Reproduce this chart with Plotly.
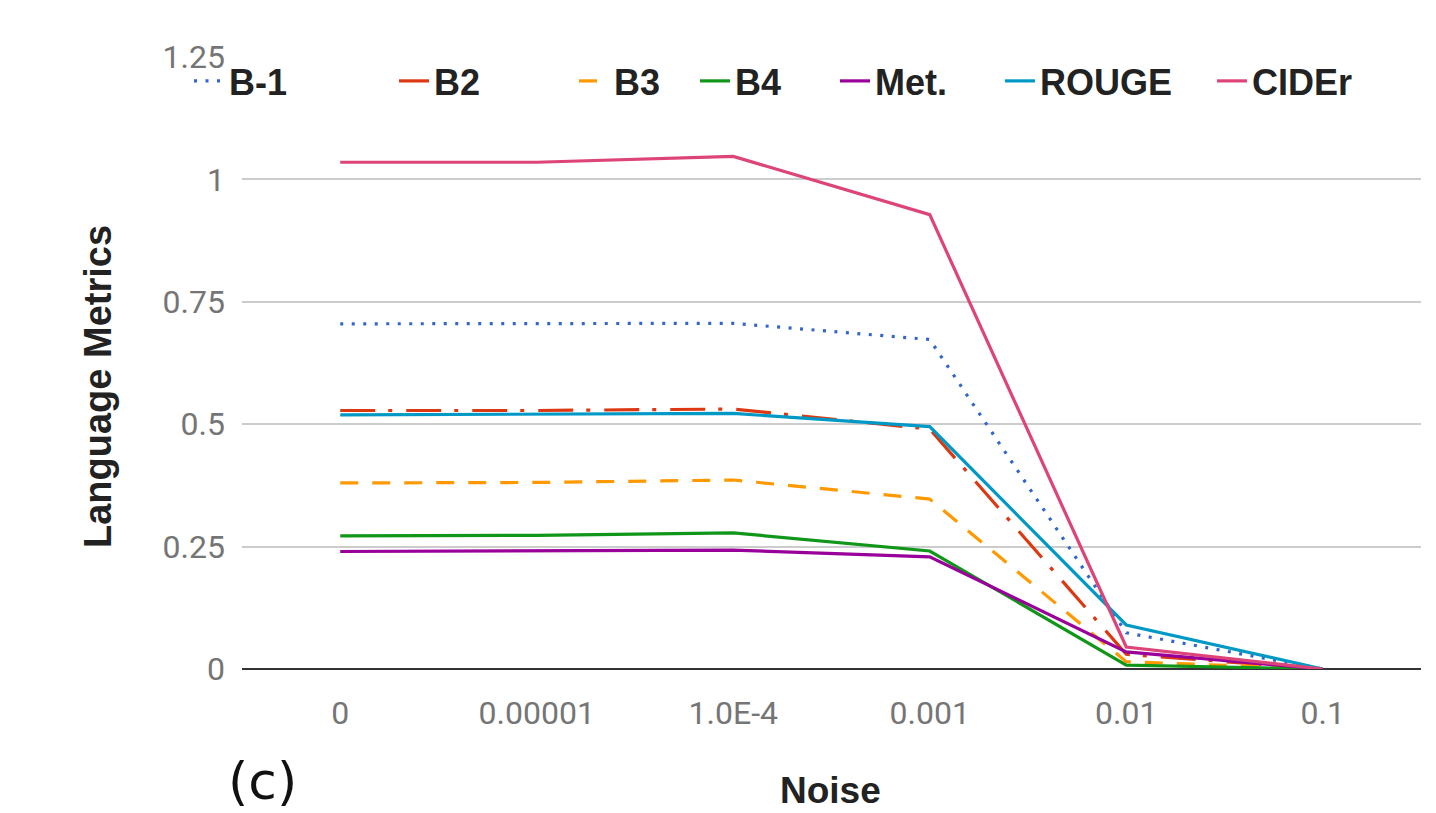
import plotly.graph_objects as go

# ---- data ----
noise = ["0", "0.00001", "1.0E-4", "0.001", "0.01", "0.1"]
b1 = [0.705, 0.705, 0.706, 0.673, 0.074, 0.0]
b2 = [0.528, 0.528, 0.531, 0.490, 0.030, 0.0]
b3 = [0.380, 0.381, 0.386, 0.347, 0.015, 0.0]
b4 = [0.272, 0.273, 0.278, 0.241, 0.008, 0.0]
met = [0.240, 0.241, 0.243, 0.229, 0.035, 0.0]
rouge = [0.519, 0.520, 0.522, 0.495, 0.090, 0.0]
cider = [1.035, 1.035, 1.047, 0.928, 0.045, 0.0]

series_names = ["B-1", "B2", "B3", "B4", "Met.", "ROUGE", "CIDEr"]
series_vals = [b1, b2, b3, b4, met, rouge, cider]
colors = ["#3366cc", "#dc3912", "#ff9900", "#109618", "#990099", "#0099c6", "#dd4477"]
dashes = ["3px,8.5px", "35px,13px,4px,14px", "18px,14px", "solid", "solid", "solid", "solid"]
legend_text_x = [232, 437, 617, 738, 878, 1043, 1255]   # screen px where legend labels start

y_ticks = [0, 0.25, 0.5, 0.75, 1, 1.25]
y_tick_text = ["0", "0.25", "0.5", "0.75", "1", "1.25"]

# page body has an 8px margin; work in screen pixels and convert
OFF = 8
W, H = 1436 - OFF, 813 - OFF
PL, PR, PT, PB = 242, 1421, 57, 669   # plot area in screen px


def px_x(px):
    return (px - PL) / (PR - PL)


def px_y(py):
    return (PB - py) / (PB - PT)


fig = go.Figure()
legend_layouts = {}
for i, (name, vals, col, dash, tx) in enumerate(
        zip(series_names, series_vals, colors, dashes, legend_text_x)):
    lg = "legend" if i == 0 else f"legend{i + 1}"
    fig.add_trace(go.Scatter(
        x=noise, y=vals, name=name, mode="lines",
        line=dict(color=col, width=3.2, dash=dash),
        legend=lg,
    ))
    legend_layouts[lg] = dict(
        xref="paper", yref="paper",
        x=px_x(tx - 43), xanchor="left", y=px_y(81), yanchor="middle",
        orientation="h", bgcolor="rgba(0,0,0,0)", borderwidth=0,
        font=dict(size=36, color="#222", family="Liberation Sans, Arial, sans-serif",
                  weight="bold"),
        itemwidth=30,
    )

fig.update_layout(
    width=W, height=H,
    margin=dict(l=PL - OFF, r=W - (PR - OFF), t=PT - OFF, b=H - (PB - OFF),
                autoexpand=False),
    paper_bgcolor="white", plot_bgcolor="white",
    font=dict(family="Roboto, Arial, sans-serif", color="#222"),
    showlegend=True,
    xaxis=dict(
        type="category", range=[-0.5, 5.5], showgrid=False, zeroline=False,
        showline=False, ticks="", ticklabelstandoff=22,
        tickfont=dict(size=32, color="#757575"),
    ),
    yaxis=dict(
        range=[0, 1.25], tickvals=y_ticks, ticktext=y_tick_text,
        showgrid=True, gridcolor="#cccccc", gridwidth=1.5,
        zeroline=True, zerolinecolor="#333333", zerolinewidth=2,
        showline=False, ticks="", ticklabelstandoff=16,
        tickfont=dict(size=32, color="#757575"),
    ),
    annotations=[
        dict(text="<b>Language Metrics</b>", xref="paper", yref="paper",
             x=px_x(98), y=px_y(387), showarrow=False,
             textangle=-90,
             font=dict(size=38, color="#222", family="Liberation Sans, Arial, sans-serif"),
             xanchor="center", yanchor="middle"),
        dict(text="<b>Noise</b>", xref="paper", yref="paper",
             x=px_x(830), y=px_y(790), showarrow=False,
             font=dict(size=37, color="#222", family="Liberation Sans, Arial, sans-serif"),
             xanchor="center", yanchor="middle"),
        dict(text="(c)", xref="paper", yref="paper",
             x=px_x(262), y=px_y(781), showarrow=False,
             font=dict(size=52, color="#111", family="DejaVu Sans, sans-serif"),
             xanchor="center", yanchor="middle"),
    ],
    **legend_layouts,
)

fig.write_html("out.html")
